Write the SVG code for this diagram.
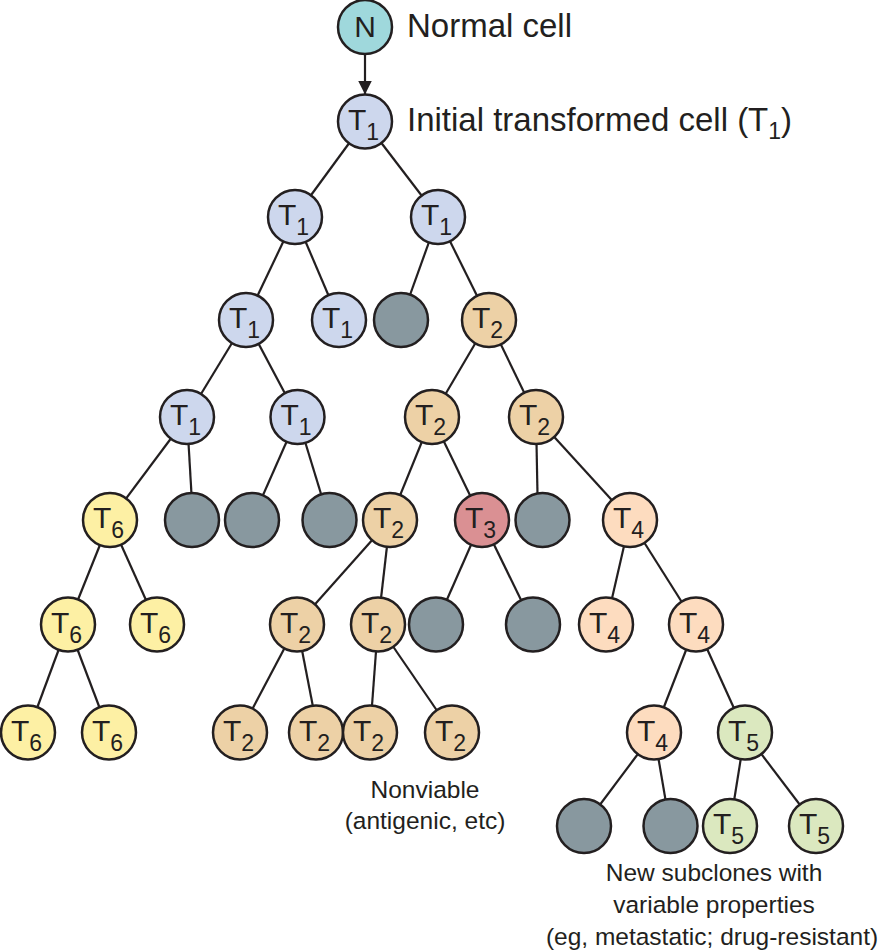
<svg xmlns="http://www.w3.org/2000/svg" width="882" height="950" viewBox="0 0 882 950">
<defs>
<style>
.c{stroke:#231f20;stroke-width:2.5}
.n{fill:#9fd8dc}.t1{fill:#cdd7ed}.t2{fill:#edd1a6}.t3{fill:#da9093}.t4{fill:#fddcbf}.t5{fill:#dbe8bf}.t6{fill:#fdf0a4}.g{fill:#88989f}
.lbl{font-family:"Liberation Sans",Arial,sans-serif;fill:#231f20}
.in{font-family:"Liberation Sans",Arial,sans-serif;font-size:30px;fill:#231f20}
.sub{font-size:23px}
.small{font-family:"Liberation Sans",Arial,sans-serif;font-size:24.5px;fill:#231f20;text-anchor:middle}
#edges line{stroke:#231f20;stroke-width:2.2}
</style>
<marker id="ah" markerWidth="14" markerHeight="24" refX="14" refY="7" orient="auto" markerUnits="userSpaceOnUse" viewBox="0 0 14 24">
<path d="M0,0 L14,7 L0,14 Z" fill="#231f20"/>
</marker>
</defs>
<rect width="882" height="950" fill="#fff"/>
<g id="edges">
<line x1="365" y1="54" x2="365" y2="94.5" marker-end="url(#ah)"/>
<line x1="365" y1="121.5" x2="295" y2="217"/>
<line x1="365" y1="121.5" x2="438" y2="217"/>
<line x1="295" y1="217" x2="246" y2="320"/>
<line x1="295" y1="217" x2="339" y2="320"/>
<line x1="438" y1="217" x2="401" y2="320"/>
<line x1="438" y1="217" x2="489" y2="320"/>
<line x1="246" y1="320" x2="187" y2="417"/>
<line x1="246" y1="320" x2="297.5" y2="417"/>
<line x1="489" y1="320" x2="432" y2="417"/>
<line x1="489" y1="320" x2="536" y2="417"/>
<line x1="187" y1="417" x2="110" y2="520"/>
<line x1="187" y1="417" x2="193" y2="520"/>
<line x1="297.5" y1="417" x2="252" y2="520"/>
<line x1="297.5" y1="417" x2="329" y2="520"/>
<line x1="432" y1="417" x2="390" y2="520"/>
<line x1="432" y1="417" x2="482" y2="520"/>
<line x1="536" y1="417" x2="538" y2="520"/>
<line x1="536" y1="417" x2="630" y2="520"/>
<line x1="110" y1="520" x2="68" y2="624.5"/>
<line x1="110" y1="520" x2="157" y2="624.5"/>
<line x1="390" y1="520" x2="297" y2="624.5"/>
<line x1="390" y1="520" x2="378" y2="624.5"/>
<line x1="482" y1="520" x2="436" y2="624.5"/>
<line x1="482" y1="520" x2="533" y2="624.5"/>
<line x1="630" y1="520" x2="606" y2="624.5"/>
<line x1="630" y1="520" x2="696" y2="624.5"/>
<line x1="68" y1="624.5" x2="28" y2="732.5"/>
<line x1="68" y1="624.5" x2="109" y2="732.5"/>
<line x1="297" y1="624.5" x2="240" y2="732.5"/>
<line x1="297" y1="624.5" x2="318" y2="732.5"/>
<line x1="378" y1="624.5" x2="370" y2="732.5"/>
<line x1="378" y1="624.5" x2="452" y2="732.5"/>
<line x1="696" y1="624.5" x2="654" y2="732.5"/>
<line x1="696" y1="624.5" x2="745" y2="732.5"/>
<line x1="654" y1="732.5" x2="584" y2="826"/>
<line x1="654" y1="732.5" x2="670" y2="826"/>
<line x1="745" y1="732.5" x2="730" y2="826"/>
<line x1="745" y1="732.5" x2="816" y2="826"/>
</g>
<g id="nodeN"><circle class="c n" cx="365" cy="27" r="27"/><text class="in" x="365" y="37" text-anchor="middle" font-size="29">N</text></g>
<g id="n1"><circle class="c t1" cx="365" cy="121.5" r="27"/><text class="in" x="348" y="130">T<tspan class="sub" dy="10">1</tspan></text></g>
<g id="n2"><circle class="c t1" cx="295" cy="217" r="27"/><text class="in" x="278" y="225">T<tspan class="sub" dy="10">1</tspan></text></g>
<g id="n3"><circle class="c t1" cx="438" cy="217" r="27"/><text class="in" x="421" y="225">T<tspan class="sub" dy="10">1</tspan></text></g>
<g id="n4"><circle class="c t1" cx="246" cy="320" r="27"/><text class="in" x="229" y="328">T<tspan class="sub" dy="10">1</tspan></text></g>
<g id="n5"><circle class="c t1" cx="339" cy="320" r="27"/><text class="in" x="322" y="328">T<tspan class="sub" dy="10">1</tspan></text></g>
<g id="n6"><circle class="c g" cx="401" cy="320" r="27"/></g>
<g id="n7"><circle class="c t2" cx="489" cy="320" r="27"/><text class="in" x="472" y="328">T<tspan class="sub" dy="10">2</tspan></text></g>
<g id="n8"><circle class="c t1" cx="187" cy="417" r="27"/><text class="in" x="170" y="425">T<tspan class="sub" dy="10">1</tspan></text></g>
<g id="n9"><circle class="c t1" cx="297.5" cy="417" r="27"/><text class="in" x="280.5" y="425">T<tspan class="sub" dy="10">1</tspan></text></g>
<g id="n10"><circle class="c t2" cx="432" cy="417" r="27"/><text class="in" x="415" y="425">T<tspan class="sub" dy="10">2</tspan></text></g>
<g id="n11"><circle class="c t2" cx="536" cy="417" r="27"/><text class="in" x="519" y="425">T<tspan class="sub" dy="10">2</tspan></text></g>
<g id="n12"><circle class="c t6" cx="110" cy="520" r="27"/><text class="in" x="93" y="528">T<tspan class="sub" dy="10">6</tspan></text></g>
<g id="n13"><circle class="c g" cx="192" cy="520" r="27"/></g>
<g id="n14"><circle class="c g" cx="252" cy="520" r="27"/></g>
<g id="n15"><circle class="c g" cx="329.5" cy="520" r="27"/></g>
<g id="n16"><circle class="c t2" cx="390" cy="520" r="27"/><text class="in" x="373" y="528">T<tspan class="sub" dy="10">2</tspan></text></g>
<g id="n17"><circle class="c t3" cx="482" cy="520" r="27"/><text class="in" x="465" y="528">T<tspan class="sub" dy="10">3</tspan></text></g>
<g id="n18"><circle class="c g" cx="542.5" cy="520" r="27"/></g>
<g id="n19"><circle class="c t4" cx="630" cy="520" r="27"/><text class="in" x="613" y="528">T<tspan class="sub" dy="10">4</tspan></text></g>
<g id="n20"><circle class="c t6" cx="68" cy="624.5" r="27"/><text class="in" x="51" y="632.5">T<tspan class="sub" dy="10">6</tspan></text></g>
<g id="n21"><circle class="c t6" cx="157" cy="624.5" r="27"/><text class="in" x="140" y="632.5">T<tspan class="sub" dy="10">6</tspan></text></g>
<g id="n22"><circle class="c t2" cx="297" cy="624.5" r="27"/><text class="in" x="280" y="632.5">T<tspan class="sub" dy="10">2</tspan></text></g>
<g id="n23"><circle class="c t2" cx="378" cy="624.5" r="27"/><text class="in" x="361" y="632.5">T<tspan class="sub" dy="10">2</tspan></text></g>
<g id="n24"><circle class="c g" cx="436" cy="624.5" r="27"/></g>
<g id="n25"><circle class="c g" cx="533" cy="624.5" r="27"/></g>
<g id="n26"><circle class="c t4" cx="606" cy="624.5" r="27"/><text class="in" x="589" y="632.5">T<tspan class="sub" dy="10">4</tspan></text></g>
<g id="n27"><circle class="c t4" cx="696" cy="624.5" r="27"/><text class="in" x="679" y="632.5">T<tspan class="sub" dy="10">4</tspan></text></g>
<g id="n28"><circle class="c t6" cx="28" cy="732.5" r="27"/><text class="in" x="11" y="740.5">T<tspan class="sub" dy="10">6</tspan></text></g>
<g id="n29"><circle class="c t6" cx="109" cy="732.5" r="27"/><text class="in" x="92" y="740.5">T<tspan class="sub" dy="10">6</tspan></text></g>
<g id="n30"><circle class="c t2" cx="240" cy="732.5" r="27"/><text class="in" x="223" y="740.5">T<tspan class="sub" dy="10">2</tspan></text></g>
<g id="n31"><circle class="c t2" cx="316" cy="732.5" r="27"/><text class="in" x="299" y="740.5">T<tspan class="sub" dy="10">2</tspan></text></g>
<g id="n32"><circle class="c t2" cx="370" cy="732.5" r="27"/><text class="in" x="353" y="740.5">T<tspan class="sub" dy="10">2</tspan></text></g>
<g id="n33"><circle class="c t2" cx="452" cy="732.5" r="27"/><text class="in" x="435" y="740.5">T<tspan class="sub" dy="10">2</tspan></text></g>
<g id="n34"><circle class="c t4" cx="654" cy="732.5" r="27"/><text class="in" x="637" y="740.5">T<tspan class="sub" dy="10">4</tspan></text></g>
<g id="n35"><circle class="c t5" cx="745" cy="732.5" r="27"/><text class="in" x="728" y="740.5">T<tspan class="sub" dy="10">5</tspan></text></g>
<g id="n36"><circle class="c g" cx="584" cy="826" r="27"/></g>
<g id="n37"><circle class="c g" cx="670.5" cy="826" r="27"/></g>
<g id="n38"><circle class="c t5" cx="730" cy="826" r="27"/><text class="in" x="713" y="834">T<tspan class="sub" dy="10">5</tspan></text></g>
<g id="n39"><circle class="c t5" cx="816" cy="826" r="27"/><text class="in" x="799" y="834">T<tspan class="sub" dy="10">5</tspan></text></g>
<g id="labels">
<text class="lbl" x="407" y="37" font-size="33">Normal cell</text>
<text class="lbl" x="407" y="131" font-size="33">Initial transformed cell (T<tspan font-size="23" dy="8">1</tspan><tspan dy="-8">)</tspan></text>
<text class="small" x="425" y="798">Nonviable</text>
<text class="small" x="425" y="829">(antigenic, etc)</text>
<text class="small" x="714" y="881">New subclones with</text>
<text class="small" x="714" y="913">variable properties</text>
<text class="small" x="712" y="945">(eg, metastatic; drug-resistant)</text>
</g>
</svg>
